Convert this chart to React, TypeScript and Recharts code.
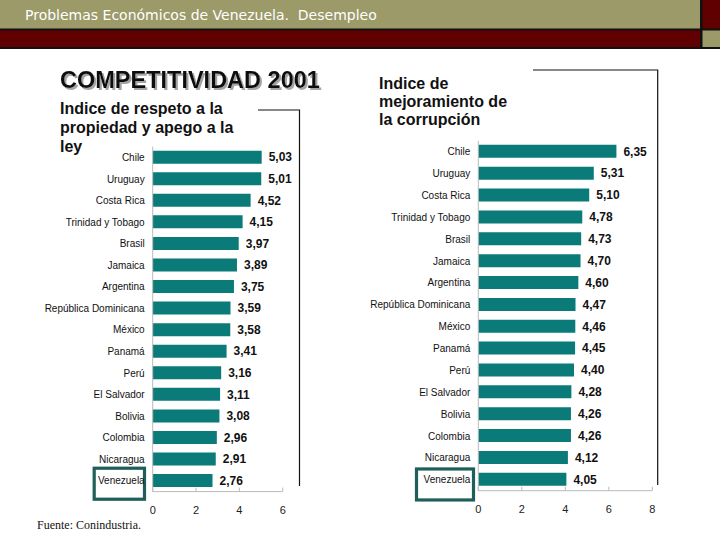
import React from 'react';
import { BarChart, Bar, XAxis, YAxis, LabelList } from 'recharts';

const countriesLeft = ['Chile', 'Uruguay', 'Costa Rica', 'Trinidad y Tobago', 'Brasil', 'Jamaica', 'Argentina', 'República Dominicana', 'México', 'Panamá', 'Perú', 'El Salvador', 'Bolivia', 'Colombia', 'Nicaragua', 'Venezuela'];
const valuesLeft = [5.03, 5.01, 4.52, 4.15, 3.97, 3.89, 3.75, 3.59, 3.58, 3.41, 3.16, 3.11, 3.08, 2.96, 2.91, 2.76];

const countriesRight = ['Chile', 'Uruguay', 'Costa Rica', 'Trinidad y Tobago', 'Brasil', 'Jamaica', 'Argentina', 'República Dominicana', 'México', 'Panamá', 'Perú', 'El Salvador', 'Bolivia', 'Colombia', 'Nicaragua', 'Venezuela'];
const valuesRight = [6.35, 5.31, 5.1, 4.78, 4.73, 4.7, 4.6, 4.47, 4.46, 4.45, 4.4, 4.28, 4.26, 4.26, 4.12, 4.05];

const ticksLeft = [0, 2, 4, 6];
const ticksRight = [0, 2, 4, 6, 8];
const highlighted = 'Venezuela';

const dataLeft = countriesLeft.map((c, i) => ({ country: c, value: valuesLeft[i] }));
const dataRight = countriesRight.map((c, i) => ({ country: c, value: valuesRight[i] }));

const SANS = '"Liberation Sans", Arial, sans-serif';
const BAR = '#0a7b78';
const BOX = '#1f5f5a';
const OLIVE = '#9b9a68';
const RED = '#600000';

const fmt = (v: any) => Number(v).toFixed(2).replace('.', ',');

const makeTick = (box: { dx: number; dy: number; w: number; h: number }) => (props: any) => {
  const { x, y, payload } = props;
  return (
    <g>
      {payload.value === highlighted && (
        <rect x={x + box.dx} y={y + box.dy} width={box.w} height={box.h} fill="none" stroke={BOX} strokeWidth={3.2} />
      )}
      <text x={x} y={y} dy="0.35em" textAnchor="end" fontSize={10} fontFamily={SANS} fill="#111">
        {payload.value}
      </text>
    </g>
  );
};

const TickLeft = makeTick({ dx: -50.5, dy: -12.6, w: 50.3, h: 31 });
const TickRight = makeTick({ dx: -53.8, dy: -10.8, w: 57, h: 31 });

export default function App() {
  return (
    <div style={{ position: 'absolute', left: 0, top: 0, width: 720, height: 540, background: '#fff', overflow: 'hidden' }}>
      <svg width={720} height={540} style={{ position: 'absolute', left: 0, top: 0 }}>
        <defs>
          <filter id="shadow" x="-5%" y="-20%" width="110%" height="150%">
            <feDropShadow dx={2} dy={2} stdDeviation={0.4} floodColor="#9a9a9a" floodOpacity={0.9} />
          </filter>
        </defs>
        {/* header */}
        <rect x={0} y={0} width={720} height={49} fill="#111" />
        <rect x={0} y={0} width={700} height={28.5} fill={OLIVE} />
        <rect x={702.5} y={0} width={17.5} height={28.5} fill={RED} />
        <rect x={0} y={30.5} width={700} height={16.5} fill={RED} />
        <rect x={702.5} y={30.5} width={17.5} height={16.5} fill={OLIVE} />
        <text x={25} y={19.5} fill="#fff" fontSize={14} fontFamily='"DejaVu Sans", Verdana, sans-serif'
          style={{ whiteSpace: 'pre' }}>
          {'Problemas Económicos de Venezuela.  Desempleo'}
        </text>
        {/* titles */}
        <text x={60} y={88} fontFamily={SANS} fontWeight="bold" fontSize={23.5} fill="#111" filter="url(#shadow)">
          COMPETITIVIDAD 2001
        </text>
        <g fontFamily={SANS} fontWeight="bold" fontSize={16} fill="#111">
          <text x={60} y={114}>Indice de respeto a la</text>
          <text x={60} y={133}>propiedad y apego a la</text>
          <text x={60} y={152}>ley</text>
          <text x={379} y={89}>Indice de</text>
          <text x={379} y={107}>mejoramiento de</text>
          <text x={379} y={125}>la corrupción</text>
        </g>
        {/* frames */}
        <polyline points="258,110 299.5,110 299.5,486" fill="none" stroke="#111" strokeWidth={1.2} />
        <polyline points="533,70 657.7,70 657.7,485" fill="none" stroke="#111" strokeWidth={1.2} />
        <text x={37} y={529} fontSize={12} fontFamily='"Liberation Serif", "Times New Roman", serif' fill="#111">
          Fuente: Conindustria.
        </text>
      </svg>

      <div style={{ position: 'absolute', left: 0, top: 0 }}>
        <BarChart width={300} height={540} data={dataLeft} layout="vertical"
          margin={{ top: 146.7, right: 17.3, bottom: 18.4, left: 0 }}>
          <XAxis type="number" domain={[0, 6]} ticks={ticksLeft} height={30}
            axisLine={{ stroke: '#bbb' }} tickLine={{ stroke: '#bbb' }} tickSize={-4} tickMargin={18.5}
            tick={{ fontSize: 11, fontFamily: SANS, fill: '#222' }} />
          <YAxis type="category" dataKey="country" width={152.7} axisLine={{ stroke: '#bbb' }}
            tickLine={false} tickSize={0} tickMargin={8} tick={TickLeft} interval={0} />
          <Bar dataKey="value" fill={BAR} barSize={13} isAnimationActive={false}>
            <LabelList dataKey="value" position="right" offset={7} formatter={fmt}
              style={{ fontSize: 12, fontWeight: 'bold', fontFamily: SANS, fill: '#111' }} />
          </Bar>
        </BarChart>
      </div>

      <div style={{ position: 'absolute', left: 330, top: 0 }}>
        <BarChart width={340} height={540} data={dataRight} layout="vertical"
          margin={{ top: 140.8, right: 17.7, bottom: 19.3, left: 0 }}>
          <XAxis type="number" domain={[0, 8]} ticks={ticksRight} height={30}
            axisLine={{ stroke: '#bbb' }} tickLine={{ stroke: '#bbb' }} tickSize={-4} tickMargin={18.5}
            tick={{ fontSize: 11, fontFamily: SANS, fill: '#222' }} />
          <YAxis type="category" dataKey="country" width={148.3} axisLine={{ stroke: '#bbb' }}
            tickLine={false} tickSize={0} tickMargin={8} tick={TickRight} interval={0} />
          <Bar dataKey="value" fill={BAR} barSize={13} isAnimationActive={false}>
            <LabelList dataKey="value" position="right" offset={7} formatter={fmt}
              style={{ fontSize: 12, fontWeight: 'bold', fontFamily: SANS, fill: '#111' }} />
          </Bar>
        </BarChart>
      </div>
    </div>
  );
}
